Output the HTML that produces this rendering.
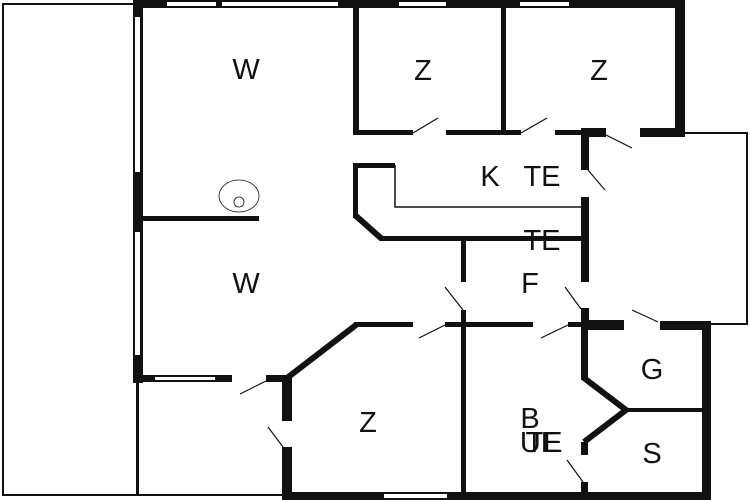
<!DOCTYPE html>
<html><head><style>html,body{margin:0;padding:0;background:#fff}svg{display:block}text{font-family:"Liberation Sans",sans-serif;fill:#111}</style></head>
<body>
<svg width="750" height="500" viewBox="0 0 750 500" xmlns="http://www.w3.org/2000/svg">
<rect width="750" height="500" fill="#fff"/>
<g fill="none" stroke="#111">
<rect x="3" y="4" width="134" height="491" stroke-width="2"/>
<line x1="138" y1="382" x2="138" y2="495" stroke-width="2"/>
<line x1="137" y1="495" x2="284" y2="495" stroke-width="2"/>
<polyline points="685,133 747,133 747,324 711,324" stroke-width="2"/>
<polyline points="395,165 395,207 581,207" stroke-width="1.5"/>
<ellipse cx="239" cy="196" rx="20" ry="16" stroke-width="0.8"/>
<circle cx="239" cy="202" r="5" stroke-width="0.8"/>
<g stroke-width="1.2">
<line x1="413" y1="133" x2="438" y2="118"/>
<line x1="521" y1="133" x2="547" y2="118"/>
<line x1="606" y1="135" x2="632" y2="148"/>
<line x1="588" y1="170" x2="605" y2="190"/>
<line x1="445" y1="287" x2="463" y2="310"/>
<line x1="565" y1="287" x2="581" y2="309"/>
<line x1="445" y1="325" x2="419" y2="338"/>
<line x1="568" y1="325" x2="541" y2="338"/>
<line x1="658" y1="322" x2="632" y2="310"/>
<line x1="266" y1="381" x2="240" y2="394"/>
<line x1="268" y1="427" x2="283" y2="447"/>
<line x1="567" y1="460" x2="583" y2="482"/>
</g>
</g>
<g fill="#111">
<rect x="133" y="0" width="552" height="8"/>
<rect x="133" y="0" width="10" height="383"/>
<rect x="353" y="0" width="6" height="135"/>
<rect x="501" y="0" width="5" height="135"/>
<rect x="675" y="0" width="10" height="137"/>
<rect x="353" y="130" width="60" height="5"/>
<rect x="446" y="130" width="75" height="5"/>
<rect x="555" y="130" width="26" height="5"/>
<rect x="581" y="128" width="25" height="9"/>
<rect x="640" y="128" width="45" height="9"/>
<rect x="143" y="216" width="116" height="5"/>
<rect x="581" y="128" width="8" height="42"/>
<rect x="581" y="197" width="8" height="85"/>
<rect x="581" y="308" width="8" height="22"/>
<rect x="353" y="163" width="42" height="5"/>
<rect x="353" y="163" width="5" height="55"/>
<rect x="380" y="236" width="201" height="5"/>
<rect x="461" y="238" width="5" height="44"/>
<rect x="461" y="310" width="5" height="186"/>
<rect x="354" y="322" width="59" height="5"/>
<rect x="445" y="322" width="88" height="5"/>
<rect x="568" y="322" width="13" height="5"/>
<rect x="581" y="320" width="43" height="10"/>
<rect x="660" y="321" width="51" height="9"/>
<rect x="702" y="321" width="9" height="179"/>
<rect x="282" y="492" width="429" height="8"/>
<rect x="282" y="375" width="10" height="46"/>
<rect x="282" y="447" width="10" height="50"/>
<rect x="137" y="375" width="95" height="7"/>
<rect x="266" y="375" width="26" height="7"/>
<rect x="581" y="325" width="7" height="55"/>
<rect x="626" y="408" width="78" height="4"/>
<rect x="581" y="442" width="7" height="13"/>
<rect x="581" y="482" width="7" height="14"/>
</g>
<g fill="#fff">
<rect x="167" y="2" width="49" height="4"/><rect x="222" y="2" width="116" height="4"/>
<rect x="399" y="2" width="47" height="4"/><rect x="520" y="2" width="49" height="4"/>
<rect x="135" y="17" width="5" height="155"/><rect x="135" y="232" width="5" height="123"/>
<rect x="155" y="377" width="60" height="3"/><rect x="384" y="494" width="63" height="4"/>
</g>
<g fill="none" stroke="#111" stroke-width="6" stroke-linejoin="miter">
<polyline points="356,216 382,239"/>
<polyline points="356,325 287,378"/>
<polyline points="584,378 626,410 584,442"/>
</g>
<g font-size="29" text-anchor="middle">
<text x="246" y="79">W</text>
<text x="246" y="293">W</text>
<text x="423" y="80">Z</text>
<text x="599" y="80">Z</text>
<text x="490" y="186">K</text>
<text x="542" y="186">TE</text>
<text x="542" y="250">TE</text>
<text x="530" y="293">F</text>
<text x="368" y="432">Z</text>
<text x="652" y="379">G</text>
<text x="652" y="463">S</text>
<text x="530" y="428">B</text>
<text x="540" y="452">UE</text>
<text x="544" y="452">TE</text>
</g>
</svg>
</body></html>
